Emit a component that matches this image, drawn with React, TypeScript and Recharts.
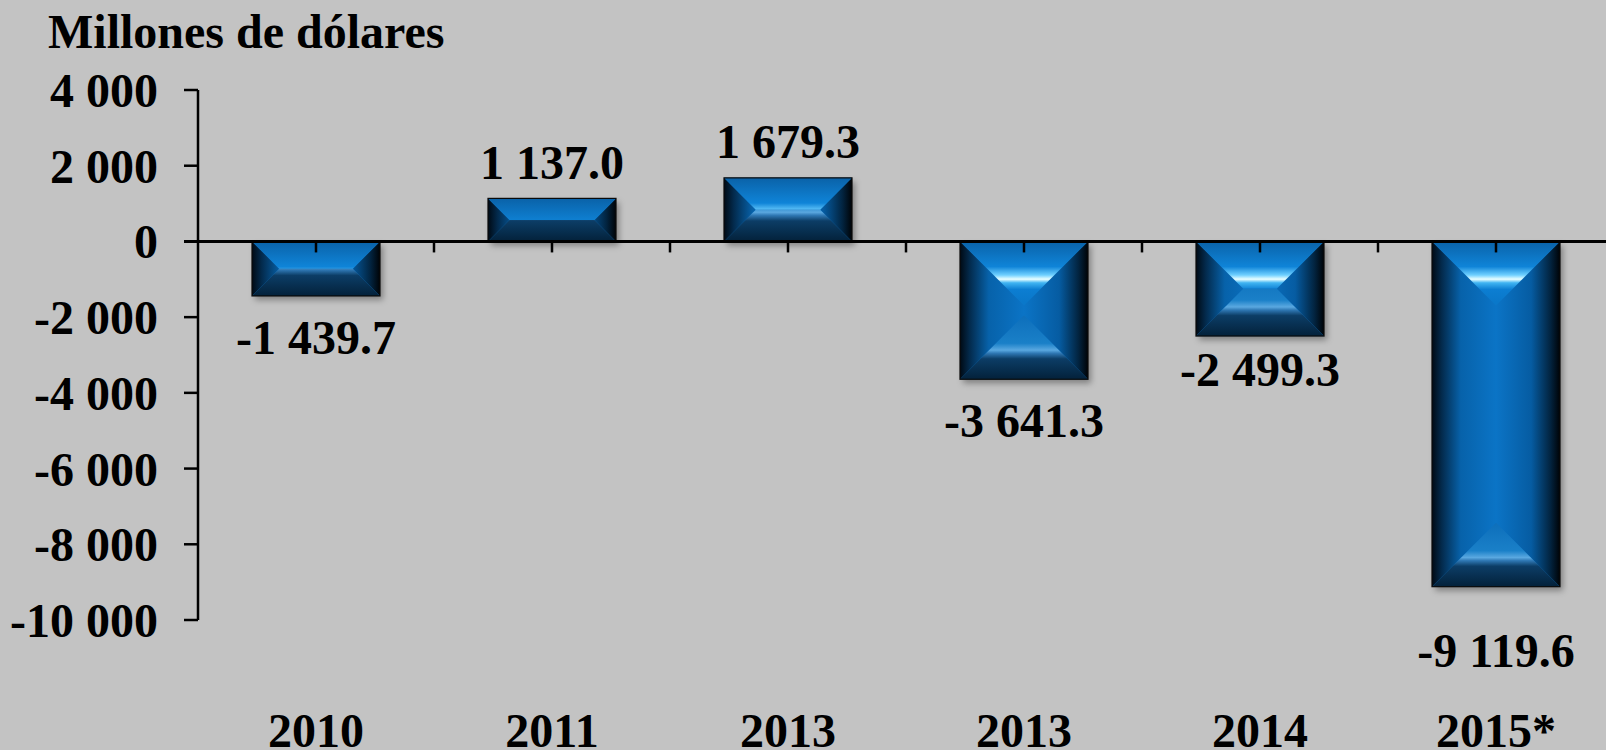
import React from 'react';
import { BarChart, Bar, XAxis, YAxis, ReferenceLine, LabelList } from 'recharts';

const categories = ['2010', '2011', '2013', '2013', '2014', '2015*'];
const values = [-1439.7, 1137.0, 1679.3, -3641.3, -2499.3, -9119.6];
const yTicks = [-10000, -8000, -6000, -4000, -2000, 0, 2000, 4000];
const yDomain = [-10000, 4000];
const titleText = 'Millones de dólares';

// style: distance from bar end to label centre (px)
const labelGaps = [42, 35, 36, 42, 34, 64];

const FONT = "'Liberation Serif', 'Times New Roman', serif";
const FS = 48;

const data = categories.map((c, i) => ({ year: c, value: values[i] }));

function fmtNum(v: number, dec: number): string {
  const s = Math.abs(v).toFixed(dec);
  const [i, d] = s.split('.');
  const ii = i.replace(/\B(?=(\d{3})+(?!\d))/g, ' ');
  return (v < 0 ? '-' : '') + ii + (d ? '.' + d : '');
}

function BevelBar(props: any) {
  const { x, y, width, height, index } = props;
  if (x == null || y == null) return null;
  const x0 = Math.min(x, x + width);
  const w = Math.abs(width);
  const y0 = Math.min(y, y + height);
  const h = Math.abs(height);
  const x1 = x0 + w;
  const y1 = y0 + h;
  const d = Math.min(w, h) / 2;
  const id = `bv${index}`;
  return (
    <g>
      <defs>
        <filter id={`${id}sh`} x="-20%" y="-20%" width="150%" height="150%">
          <feDropShadow dx="3" dy="4" stdDeviation="3" floodColor="#000" floodOpacity="0.35" />
        </filter>
        <linearGradient id={`${id}t`} gradientUnits="userSpaceOnUse" x1={0} y1={y0} x2={0} y2={y0 + 60}>
          <stop offset="0" stopColor="#0a62a8" />
          <stop offset="0.42" stopColor="#0f84d8" />
          <stop offset="0.56" stopColor="#6fd0ff" />
          <stop offset="0.63" stopColor="#eaffff" />
          <stop offset="0.69" stopColor="#40b4f2" />
          <stop offset="0.8" stopColor="#0c7ed2" />
          <stop offset="1" stopColor="#0a78ca" />
        </linearGradient>
        <linearGradient id={`${id}b`} gradientUnits="userSpaceOnUse" x1={0} y1={y1 - 62} x2={0} y2={y1}>
          <stop offset="0" stopColor="#0e70bc" />
          <stop offset="0.42" stopColor="#1a80c8" />
          <stop offset="0.53" stopColor="#5aa8e0" />
          <stop offset="0.58" stopColor="#2f78b4" />
          <stop offset="0.67" stopColor="#0c3d66" />
          <stop offset="1" stopColor="#03213a" />
        </linearGradient>
        <linearGradient id={`${id}l`} gradientUnits="userSpaceOnUse" x1={x0} y1={0} x2={x0 + 64} y2={0}>
          <stop offset="0" stopColor="#000a14" />
          <stop offset="0.15" stopColor="#032a4c" />
          <stop offset="0.45" stopColor="#0762aa" />
          <stop offset="1" stopColor="#0b74c6" />
        </linearGradient>
        <linearGradient id={`${id}r`} gradientUnits="userSpaceOnUse" x1={x1} y1={0} x2={x1 - 64} y2={0}>
          <stop offset="0" stopColor="#000306" />
          <stop offset="0.15" stopColor="#022440" />
          <stop offset="0.45" stopColor="#065ca2" />
          <stop offset="1" stopColor="#0b74c6" />
        </linearGradient>
      </defs>
      <g filter={`url(#${id}sh)`}>
        <rect x={x0} y={y0} width={w} height={h} fill="#0b6fc0" />
      </g>
      <polygon points={`${x0},${y0} ${x0 + d},${y0 + d} ${x0 + d},${y1 - d} ${x0},${y1}`} fill={`url(#${id}l)`} />
      <polygon points={`${x1},${y0} ${x1 - d},${y0 + d} ${x1 - d},${y1 - d} ${x1},${y1}`} fill={`url(#${id}r)`} />
      <polygon points={`${x0},${y0} ${x1},${y0} ${x1 - d},${y0 + d} ${x0 + d},${y0 + d}`} fill={`url(#${id}t)`} />
      <polygon points={`${x0},${y1} ${x1},${y1} ${x1 - d},${y1 - d} ${x0 + d},${y1 - d}`} fill={`url(#${id}b)`} />
      <rect x={x0} y={y0} width={w} height={h} fill="none" stroke="#0a0a0a" strokeWidth={1.2} />
    </g>
  );
}

function ZeroLine(props: any) {
  const { x1, y1, x2, y2 } = props;
  if (x1 == null) return null;
  const n = categories.length;
  const step = (x2 - x1) / (2 * n);
  const ks = Array.from({ length: 2 * n - 1 }, (_, k) => k + 1);
  return (
    <g>
      <line x1={x1 - 14} y1={y1} x2={x2} y2={y2} stroke="#000" strokeWidth={3} />
      {ks.map((k) => (
        <line key={k} x1={x1 + k * step} x2={x1 + k * step} y1={y1} y2={y1 + 11} stroke="#000" strokeWidth={2.5} />
      ))}
    </g>
  );
}

function ValueLabel(props: any) {
  const { index } = props;
  const vb = props.viewBox || props;
  const x = vb.x ?? props.x;
  const y = vb.y ?? props.y;
  const width = vb.width ?? props.width;
  const height = vb.height ?? props.height;
  if (x == null || index == null) return null;
  const v = values[index];
  const x0 = Math.min(x, x + width);
  const w = Math.abs(width);
  const top = Math.min(y, y + height);
  const bottom = top + Math.abs(height);
  const gap = labelGaps[index] ?? 36;
  const cy = v >= 0 ? top - gap : bottom + gap;
  return (
    <text
      x={x0 + w / 2}
      y={cy + 16}
      textAnchor="middle"
      fontFamily={FONT}
      fontSize={FS}
      fontWeight="bold"
      fill="#000"
    >
      {fmtNum(v, 1)}
    </text>
  );
}

function XTick(props: any) {
  const { x, y, payload } = props;
  return (
    <text x={x} y={y + 127} textAnchor="middle" fontFamily={FONT} fontSize={FS} fontWeight="bold" fill="#000">
      {payload.value}
    </text>
  );
}

export default function App() {
  return (
    <div
      style={{
        position: 'absolute',
        left: 0,
        top: 0,
        width: 1606,
        height: 750,
        overflow: 'hidden',
        background: '#c3c3c3',
      }}
    >
      <BarChart
        width={1620}
        height={750}
        data={data}
        margin={{ top: 90, right: 6, bottom: 0, left: 0 }}
        barSize={128}
      >
        <XAxis
          dataKey="year"
          axisLine={false}
          tickLine={false}
          tickSize={0}
          tickMargin={0}
          height={130}
          interval={0}
          tick={<XTick />}
        />
        <YAxis
          type="number"
          domain={yDomain}
          ticks={yTicks}
          width={198}
          interval={0}
          tickSize={14}
          tickMargin={26}
          tickFormatter={(v: number) => fmtNum(v, 0)}
          axisLine={{ stroke: '#000', strokeWidth: 2.5 }}
          tickLine={{ stroke: '#000', strokeWidth: 2.5 }}
          tick={{ fontFamily: FONT, fontSize: FS, fontWeight: 'bold', fill: '#000' }}
        />
        <Bar dataKey="value" shape={<BevelBar />} isAnimationActive={false}>
          <LabelList dataKey="value" content={<ValueLabel />} />
        </Bar>
        <ReferenceLine y={0} stroke="#000" strokeWidth={3} shape={<ZeroLine />} ifOverflow="visible" />
      </BarChart>
      <svg
        width={1606}
        height={750}
        style={{ position: 'absolute', left: 0, top: 0, pointerEvents: 'none' }}
      >
        <text x={48} y={48} fontFamily={FONT} fontSize={FS} fontWeight="bold" fill="#000">
          {titleText}
        </text>
      </svg>
    </div>
  );
}
